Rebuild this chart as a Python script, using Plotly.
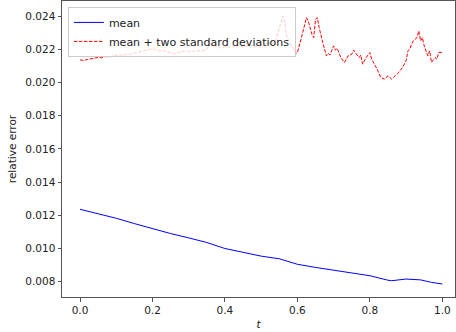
import plotly.graph_objects as go

# ---- data ----
t_mean = [0.0, 0.05, 0.10, 0.15, 0.20, 0.25, 0.30, 0.35, 0.40, 0.45, 0.50,
          0.55, 0.60, 0.65, 0.70, 0.75, 0.80, 0.85, 0.86, 0.90, 0.94, 0.97, 1.0]
mean_vals = [0.01236, 0.01210, 0.01182, 0.01150, 0.01118, 0.01090, 0.01064,
             0.01036, 0.01000, 0.00978, 0.00954, 0.00938, 0.00905, 0.00886,
             0.00868, 0.00851, 0.00836, 0.00809, 0.00806, 0.00816, 0.00811,
             0.00796, 0.00786]

t_upper = [0.00, 0.01, 0.02, 0.03, 0.04, 0.05, 0.06, 0.07, 0.08, 0.09,
           0.10, 0.11, 0.12, 0.13, 0.14, 0.15, 0.16, 0.17, 0.18, 0.19,
           0.20, 0.21, 0.22, 0.23, 0.24, 0.25, 0.26, 0.27, 0.28, 0.29,
           0.30, 0.31, 0.32, 0.33, 0.34, 0.35, 0.36, 0.37, 0.38, 0.39,
           0.40, 0.41, 0.42, 0.43, 0.44, 0.45, 0.46, 0.47, 0.48, 0.49,
           0.50, 0.51, 0.52, 0.53, 0.54, 0.55, 0.56, 0.565, 0.57, 0.58,
           0.59, 0.595, 0.60, 0.61, 0.62, 0.625, 0.63, 0.64, 0.645, 0.65,
           0.655, 0.66, 0.67, 0.68, 0.685, 0.69, 0.70, 0.705, 0.71, 0.72,
           0.73, 0.735, 0.74, 0.75, 0.755, 0.76, 0.77, 0.775, 0.78, 0.79,
           0.80, 0.805, 0.81, 0.82, 0.83, 0.84, 0.85, 0.86, 0.87, 0.88,
           0.89, 0.90, 0.905, 0.91, 0.915, 0.92, 0.93, 0.935, 0.94, 0.945,
           0.95, 0.96, 0.965, 0.97, 0.98, 0.985, 0.99, 1.00]
upper_vals = [0.02136, 0.02132, 0.02138, 0.02142, 0.02146, 0.02150, 0.02148,
              0.02156, 0.02154, 0.02160, 0.02164, 0.02166, 0.02162, 0.02172,
              0.02170, 0.02176, 0.02182, 0.02184, 0.02190, 0.02196, 0.02204,
              0.02196, 0.02190, 0.02192, 0.02184, 0.02180, 0.02172, 0.02178,
              0.02186, 0.02190, 0.02188, 0.02186, 0.02190, 0.02188, 0.02190,
              0.02200, 0.02232, 0.02222, 0.02212, 0.02206, 0.02214, 0.02208,
              0.02218, 0.02212, 0.02226, 0.02214, 0.02218, 0.02228, 0.02210,
              0.02222, 0.02208, 0.02228, 0.02236, 0.02230, 0.02250, 0.02320,
              0.02400, 0.02360, 0.02280, 0.02232, 0.02200, 0.02172, 0.02180,
              0.02260, 0.02360, 0.02390, 0.02370, 0.02290, 0.02270, 0.02380,
              0.02390, 0.02330, 0.02240, 0.02160, 0.02175, 0.02165, 0.02220,
              0.02195, 0.02205, 0.02150, 0.02120, 0.02140, 0.02160, 0.02170,
              0.02195, 0.02180, 0.02150, 0.02165, 0.02110, 0.02150, 0.02180,
              0.02140, 0.02120, 0.02080, 0.02030, 0.02020, 0.02040, 0.02020,
              0.02040, 0.02060, 0.02090, 0.02130, 0.02190, 0.02200, 0.02230,
              0.02250, 0.02270, 0.02310, 0.02250, 0.02270, 0.02220, 0.02160,
              0.02190, 0.02120, 0.02150, 0.02140, 0.02180, 0.02180]

x_ticks = [0.0, 0.2, 0.4, 0.6, 0.8, 1.0]
x_tick_labels = ["0.0", "0.2", "0.4", "0.6", "0.8", "1.0"]
y_ticks = [0.008, 0.010, 0.012, 0.014, 0.016, 0.018, 0.020, 0.022, 0.024]
y_tick_labels = ["0.008", "0.010", "0.012", "0.014", "0.016", "0.018",
                 "0.020", "0.022", "0.024"]

FONT = "DejaVu Sans"

fig = go.Figure()
fig.add_trace(go.Scatter(x=t_mean, y=mean_vals, mode="lines", name="mean",
                         line=dict(color="#0000ff", width=1)))
fig.add_trace(go.Scatter(x=t_upper, y=upper_vals, mode="lines",
                         name="mean + two standard deviations",
                         line=dict(color="#ff0000", width=1, dash="3.5px,1.5px")))

axis_common = dict(showline=True, linecolor="#555555", linewidth=1, mirror=True,
                   showgrid=False, zeroline=False, ticks="outside", ticklen=3.5,
                   tickwidth=1, tickcolor="#555555",
                   tickfont=dict(family=FONT, size=10.5, color="#222222"))

fig.update_xaxes(range=[-0.0497, 1.035], tickvals=x_ticks, ticktext=x_tick_labels,
                 title=dict(text="<i>t</i>", font=dict(family=FONT, size=10.5, color="#222222"),
                            standoff=5),
                 **axis_common)
fig.update_yaxes(range=[0.007079, 0.024903], tickvals=y_ticks, ticktext=y_tick_labels,
                 title=dict(text="relative error", font=dict(family=FONT, size=10.5, color="#222222"),
                            standoff=6),
                 **axis_common)

fig.update_layout(
    width=456, height=332,
    margin=dict(l=62, r=1, t=1, b=35),
    plot_bgcolor="white", paper_bgcolor="white",
    font=dict(family=FONT, size=10.5, color="#222222"),
    legend=dict(x=0.015, y=0.98, xanchor="left", yanchor="top",
                bgcolor="rgba(255,255,255,0.8)", bordercolor="#cccccc", borderwidth=1,
                font=dict(family=FONT, size=11, color="#222222"),
                tracegroupgap=0, itemwidth=30),
    showlegend=True,
)

fig.write_html("out.html")
